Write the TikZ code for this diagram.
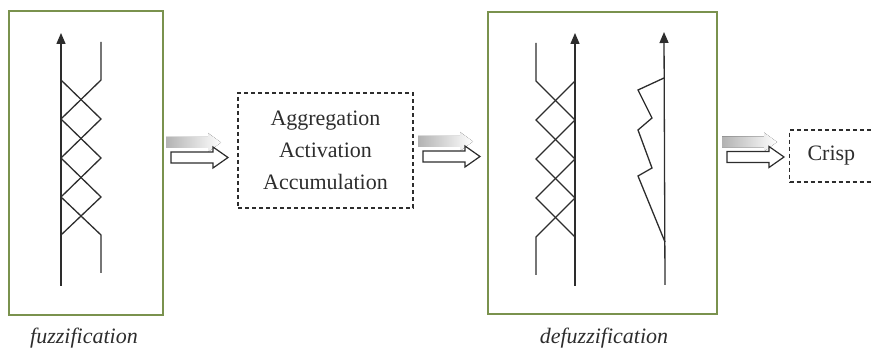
\documentclass[tikz,border=0pt]{standalone}
\usepackage{fontspec}
\setmainfont{Liberation Serif}
\usetikzlibrary{arrows.meta}
\definecolor{boxgreen}{RGB}{122,146,78}
\definecolor{ink}{RGB}{45,45,45}
\begin{document}
\begin{tikzpicture}[x=1pt,y=-1pt,
  stage/.style={draw=boxgreen, line width=1.8pt, inner sep=0pt},
  dbox/.style={draw=ink, line width=1.1pt, dash pattern=on 4pt off 3pt,
    text=ink, font=\fontsize{22}{32}\selectfont, inner sep=0pt},
  lbl/.style={text=ink, font=\fontsize{22}{26}\selectfont\itshape},
  curve/.style={draw=ink, line width=1.3pt, line join=miter},
  axis/.style={draw=ink, line width=1.3pt,
    -{Triangle[width=9pt,length=11pt]}},
  blockarrow/.pic={
    % soft grey shadow behind the hollow arrow
    \fill[left color=black!30, right color=white]
      (-5,-20.5) -- (37,-20.5) -- (37,-24.5) -- (50,-15) -- (37,-5.5)
      -- (37,-9.5) -- (-5,-9.5) -- cycle;
    % hollow block arrow
    \draw[ink, line width=1.2pt, fill=white, line join=miter]
      (0,-5.5) -- (42,-5.5) -- (42,-10.5) -- (57,0) -- (42,10.5)
      -- (42,5.5) -- (0,5.5) -- cycle;
  }]
\useasboundingbox (0,0) rectangle (871,352);
\clip (0,0) rectangle (871,352);

% stage frames and process boxes
\node[stage, minimum width=154pt, minimum height=304pt] (fuzz) at (86,163) {};
\node[stage, minimum width=229pt, minimum height=302pt] (defuzz) at (602.5,163) {};
\node[dbox, minimum width=175pt, minimum height=115pt, align=center] (agg)
  at (325.5,150.5) {Aggregation\\Activation\\Accumulation};
\node[dbox, anchor=west, minimum height=52pt] (crisp) at (789,156)
  {\kern18pt Crisp\kern40pt};

% captions
\node[lbl] (lf) at (84,338) {fuzzification};
\node[lbl] (ld) at (604,338) {defuzzification};

% block arrows between the stages
\pic at (171,157.5) {blockarrow};
\pic at (423,156.5) {blockarrow};
\pic at (727,157) {blockarrow};

% fuzzification: axis with crossing membership functions
\coordinate (f0) at (61,286);
\coordinate (f1) at (61,33);
\draw[axis] (f0) -- (f1);
\draw[curve] (61,80) -- (101,119) -- (61,158) -- (101,197) -- (61,235);
\draw[curve] (101,42) -- (101,80) -- (61,119) -- (101,158) -- (61,197)
  -- (101,235) -- (101,273);

% defuzzification: mirrored membership functions
\coordinate (d0) at (575,286);
\coordinate (d1) at (575,33);
\draw[axis] (d0) -- (d1);
\draw[curve] (575,81) -- (536,120) -- (575,159) -- (536,198) -- (575,237);
\draw[curve] (536,43) -- (536,81) -- (575,120) -- (536,159) -- (575,198)
  -- (536,237) -- (536,275);

% defuzzification: aggregated output set
\coordinate (e0) at (665,285);
\coordinate (e1) at (664,32);
\draw[axis] (e0) -- (e1);
\draw[curve] (664,78) -- (638,90) -- (652,118) -- (638,130) -- (652,168)
  -- (638,176) -- (665,242);
\end{tikzpicture}
\end{document}
